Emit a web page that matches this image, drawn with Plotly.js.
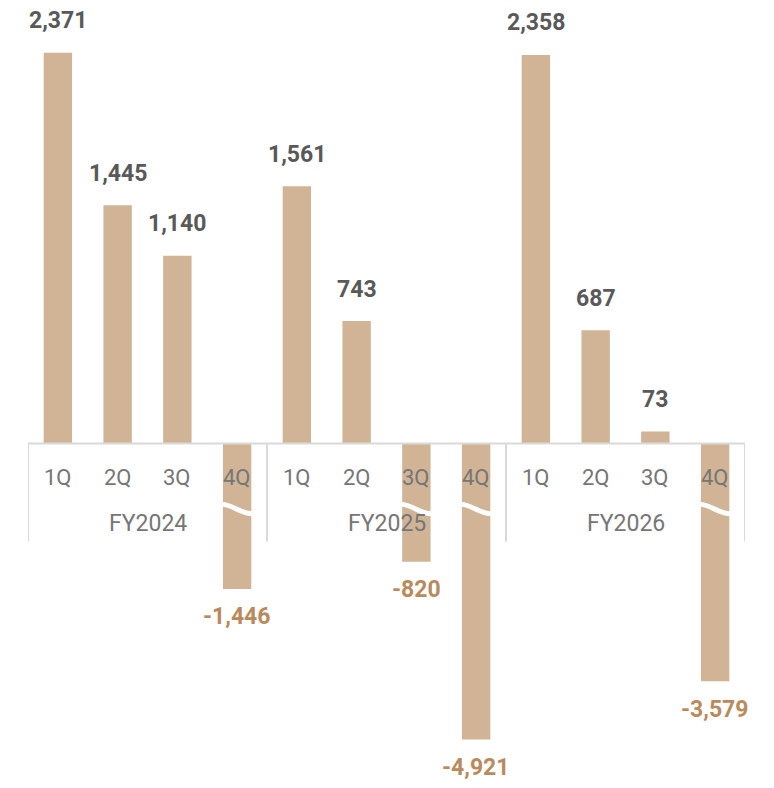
<!DOCTYPE html>
<html>
<head>
<meta charset="utf-8">
<script src="https://cdn.plot.ly/plotly-3.0.1.min.js"></script>
<style>
  html, body { margin: 0; padding: 0; background: #ffffff; }
  #chart { width: 774px; height: 788px; }
</style>
</head>
<body>
<div id="chart"></div>
<script>
// ---- data ----
const quarters = ['1Q', '2Q', '3Q', '4Q', '1Q', '2Q', '3Q', '4Q', '1Q', '2Q', '3Q', '4Q'];
const fiscalYears = ['FY2024', 'FY2025', 'FY2026'];
const values = [2371, 1445, 1140, -1446, 1561, 743, -820, -4921, 2358, 687, 73, -3579];

// ---- broken (compressed) scale for the negative side ----
const BREAK_BASE = 502;     // axis units kept before the break
const BREAK_RATIO = 0.2628; // compression of the negative magnitude
function shown(v) { return v >= 0 ? v : -(BREAK_BASE + BREAK_RATIO * Math.abs(v)); }

const BAR = '#D1B496';
const POS_TXT = '#595959';
const NEG_TXT = '#B98A5C';
const CAT_TXT = '#767676';
const LINE = '#D9D9D9';
const FONT = 'Roboto, "Noto Sans", Arial, sans-serif';

const xs = values.map((_, i) => i);
const ys = values.map(shown);

const fmt = v => (v < 0 ? '-' : '') + Math.abs(v).toLocaleString('en-US');

const annotations = [];
values.forEach((v, i) => {
  annotations.push({
    x: i, y: ys[i], xref: 'x', yref: 'y', showarrow: false,
    text: fmt(v), xanchor: 'center', yanchor: 'middle',
    yshift: v >= 0 ? 32 : -28,
    font: { family: FONT, size: 23, color: v >= 0 ? POS_TXT : NEG_TXT, weight: 'bold' }
  });
  annotations.push({
    x: i, y: 0, xref: 'x', yref: 'y', showarrow: false,
    text: quarters[i], xanchor: 'center', yanchor: 'middle', yshift: -33.5,
    font: { family: FONT, size: 22, color: CAT_TXT }
  });
});
fiscalYears.forEach((fy, g) => {
  annotations.push({
    x: g * 4 + 1.5, y: 0, xref: 'x', yref: 'y', showarrow: false,
    text: fy, xanchor: 'center', yanchor: 'middle', yshift: -80,
    font: { family: FONT, size: 23, color: CAT_TXT }
  });
});

const shapes = [];
// zero line
shapes.push({ type: 'line', xref: 'x', yref: 'y', x0: -0.5, x1: values.length - 0.5, y0: 0, y1: 0,
  line: { color: LINE, width: 2 }, layer: 'above' });
// group separators
for (let g = 0; g <= fiscalYears.length; g++) {
  shapes.push({ type: 'line', xref: 'x', yref: 'y', x0: g * 4 - 0.5, x1: g * 4 - 0.5,
    ysizemode: 'pixel', yanchor: 0, y0: 0, y1: -98,
    line: { color: LINE, width: 2 }, layer: 'above' });
}
// break marks on negative bars
values.forEach((v, i) => {
  if (v < 0) {
    shapes.push({ type: 'path', xref: 'x', yref: 'y',
      xsizemode: 'pixel', ysizemode: 'pixel', xanchor: i, yanchor: 0,
      path: 'M -17 -61 C -6 -59, 5 -72, 17 -70',
      line: { color: '#ffffff', width: 5 }, layer: 'above' });
  }
});

const trace = {
  type: 'bar', x: xs, y: ys, width: 0.475,
  marker: { color: BAR, line: { width: 0 } },
  hoverinfo: 'skip', showlegend: false
};

const layout = {
  width: 774, height: 788,
  margin: { l: 28, r: 29, t: 0, b: 0, pad: 0 },
  paper_bgcolor: '#ffffff', plot_bgcolor: '#ffffff',
  xaxis: { range: [-0.5, values.length - 0.5], visible: false, fixedrange: true },
  yaxis: { range: [-2090, 2691], visible: false, fixedrange: true, zeroline: false },
  annotations: annotations,
  shapes: shapes,
  showlegend: false
};

Plotly.newPlot('chart', [trace], layout, { displayModeBar: false, staticPlot: true });
</script>
</body>
</html>
